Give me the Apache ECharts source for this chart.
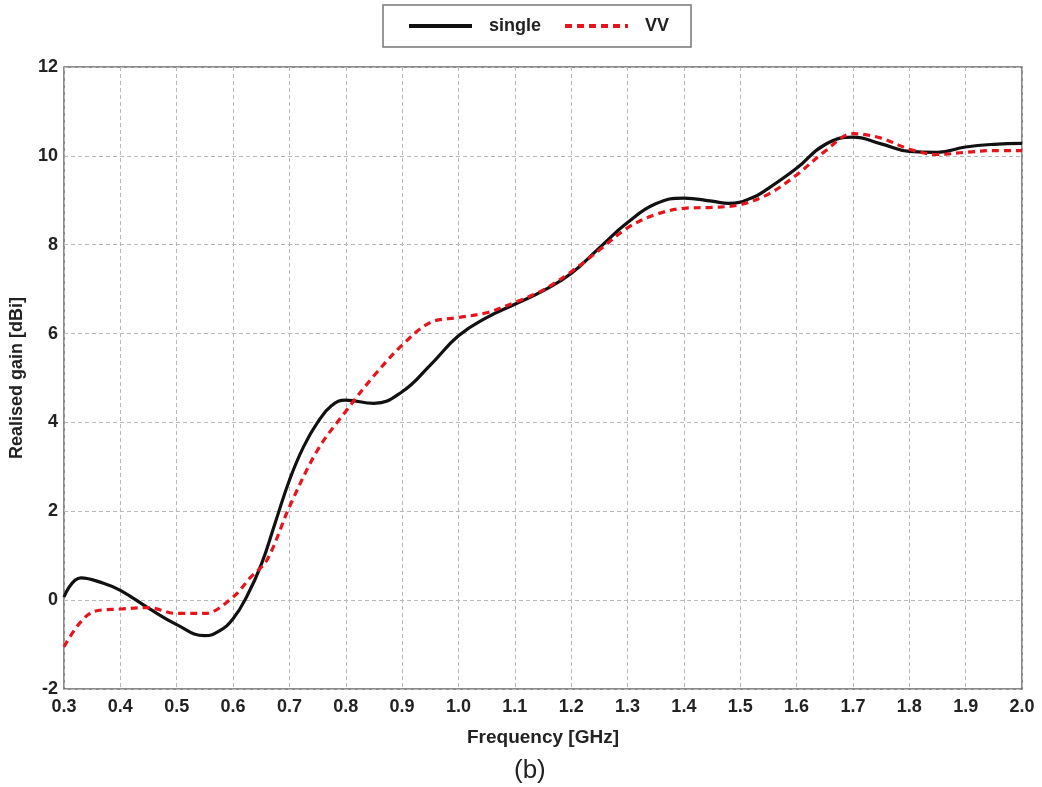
<!DOCTYPE html>
<html>
<head>
<meta charset="utf-8">
<script src="https://cdn.jsdelivr.net/npm/echarts@6/dist/echarts.min.js"></script>
<style>
  html, body { margin: 0; padding: 0; background: #fff; }
  #chart { width: 1042px; height: 787px; }
</style>
</head>
<body>
<div id="chart"></div>
<script>
// Realised gain vs frequency for the single element and the VV configuration
const singleFreq = [0.30, 0.33, 0.37, 0.40, 0.45, 0.50, 0.55, 0.575, 0.60, 0.625, 0.65, 0.675, 0.70, 0.725, 0.75, 0.775, 0.80, 0.85, 0.90, 0.95, 1.00, 1.05, 1.10, 1.15, 1.20, 1.25, 1.30, 1.35, 1.40, 1.45, 1.48, 1.52, 1.55, 1.60, 1.65, 1.70, 1.75, 1.80, 1.85, 1.90, 1.95, 2.00];
const singleGain = [0.07, 0.5, 0.38, 0.22, -0.18, -0.55, -0.8, -0.7, -0.42, 0.1, 0.8, 1.75, 2.7, 3.45, 4.0, 4.38, 4.5, 4.43, 4.69, 5.29, 5.95, 6.36, 6.66, 6.96, 7.35, 7.93, 8.5, 8.92, 9.05, 8.98, 8.93, 9.05, 9.27, 9.72, 10.25, 10.42, 10.27, 10.1, 10.08, 10.2, 10.26, 10.28];

const vvFreq = [0.30, 0.35, 0.40, 0.45, 0.50, 0.55, 0.60, 0.63, 0.66, 0.70, 0.75, 0.80, 0.85, 0.90, 0.95, 1.00, 1.05, 1.10, 1.15, 1.20, 1.25, 1.30, 1.35, 1.40, 1.45, 1.50, 1.55, 1.60, 1.65, 1.70, 1.75, 1.80, 1.85, 1.90, 1.95, 2.00];
const vvGain = [-1.05, -0.27, -0.2, -0.17, -0.3, -0.3, 0.07, 0.5, 0.9, 2.1, 3.38, 4.25, 5.05, 5.74, 6.25, 6.36, 6.47, 6.7, 6.98, 7.39, 7.88, 8.38, 8.68, 8.82, 8.84, 8.9, 9.14, 9.57, 10.1, 10.5, 10.4, 10.15, 10.03, 10.08, 10.12, 10.12];

const seriesNames = ['single', 'VV'];
const xAxisTitle = 'Frequency [GHz]';
const yAxisTitle = 'Realised gain [dBi]';
const panelLabel = '(b)';

const pair = (xs, ys) => xs.map((x, i) => [x, ys[i]]);

const font = 'Liberation Sans, Arial, sans-serif';
const ink = '#222';
const chart = echarts.init(document.getElementById('chart'));

chart.setOption({
  backgroundColor: '#fff',
  animation: false,
  grid: {
    left: 63, right: 20, top: 67, bottom: 98,
    show: true, borderColor: '#666', borderWidth: 1.5, backgroundColor: 'transparent'
  },
  legend: {
    left: 383, top: 5,
    padding: [12, 22, 12, 24],
    borderColor: '#777', borderWidth: 1.5, borderRadius: 0,
    itemGap: 22, itemWidth: 63, itemHeight: 14,
    itemStyle: { opacity: 0 },
    lineStyle: { width: 4 },
    textStyle: { fontFamily: font, fontWeight: 'bold', fontSize: 18, color: ink, padding: [0, 0, 0, 12] },
    data: seriesNames
  },
  xAxis: {
    type: 'value', min: 0.3, max: 2.0, interval: 0.1,
    name: xAxisTitle, nameLocation: 'middle', nameGap: 39,
    nameTextStyle: { fontFamily: font, fontWeight: 'bold', fontSize: 19, color: ink },
    axisLine: { show: false }, axisTick: { show: false },
    axisLabel: { fontFamily: font, fontWeight: 'bold', fontSize: 18, color: ink, margin: 9,
      formatter: v => v.toFixed(1) },
    splitLine: { show: true, lineStyle: { color: '#b8b8b8', type: [4, 3], width: 1 } }
  },
  yAxis: {
    type: 'value', min: -2, max: 12, interval: 2,
    name: yAxisTitle, nameLocation: 'middle', nameGap: 38,
    nameTextStyle: { fontFamily: font, fontWeight: 'bold', fontSize: 18, color: ink },
    axisLine: { show: false }, axisTick: { show: false },
    axisLabel: { fontFamily: font, fontWeight: 'bold', fontSize: 18, color: ink, margin: 6 },
    splitLine: { show: true, lineStyle: { color: '#b8b8b8', type: [4, 3], width: 1 } }
  },
  series: [
    {
      name: seriesNames[0], type: 'line', smooth: 0.45, symbol: 'none',
      data: pair(singleFreq, singleGain),
      lineStyle: { color: '#111', width: 3.2 },
      itemStyle: { color: '#111' }, z: 3
    },
    {
      name: seriesNames[1], type: 'line', smooth: 0.35, symbol: 'none',
      data: pair(vvFreq, vvGain),
      lineStyle: { color: '#e8141b', width: 3.2, type: [7, 5] },
      itemStyle: { color: '#e8141b' }, z: 4
    }
  ],
  graphic: [{
    type: 'text', left: 514, top: 758,
    style: { text: panelLabel, font: '26px ' + font, fill: ink }
  }]
});
</script>
</body>
</html>
